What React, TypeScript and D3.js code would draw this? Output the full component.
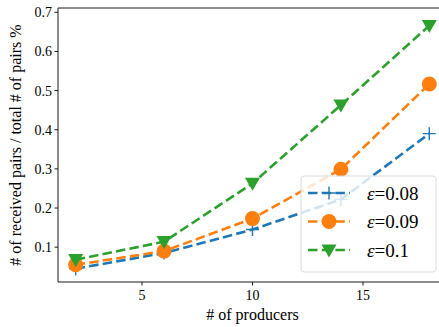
import React from 'react';
import * as d3 from 'd3';

// producers on the x axis
const producers = [2, 6, 10, 14, 18];
// received pair fraction per epsilon
const eps008 = [0.045, 0.085, 0.145, 0.222, 0.39];
const eps009 = [0.055, 0.09, 0.173, 0.299, 0.517];
const eps010 = [0.068, 0.114, 0.263, 0.463, 0.666];
const seriesLabels = ['0.08', '0.09', '0.1'];
const xTicks = [5, 10, 15];
const yTicks = [0.1, 0.2, 0.3, 0.4, 0.5, 0.6, 0.7];

const W = 439;
const H = 327;
const FONT = 'Liberation Serif';

const left = 58, top = 8, bottom = 282, right = 447;
const x = d3.scaleLinear().domain([1.2, 18.8]).range([left, right]);
const y = d3.scaleLinear().domain([0.011, 0.711]).range([bottom, top]);

const colors = ['#1f77b4', '#ff7f0e', '#2ca02c'];
const series = [eps008, eps009, eps010];
const markers = ['plus', 'circle', 'tri'];

const Marker = ({ kind, cx, cy, color }: { kind: string; cx: number; cy: number; color: string }) => {
  if (kind === 'plus') {
    return <path d={`M${cx - 6.5},${cy}H${cx + 6.5}M${cx},${cy - 6.5}V${cy + 6.5}`}
      stroke={color} strokeWidth={1.4} fill="none" />;
  }
  if (kind === 'circle') return <circle cx={cx} cy={cy} r={7.5} fill={color} />;
  const s = 7.5;
  return <path d={`M${cx - s},${cy - s * 0.75}L${cx + s},${cy - s * 0.75}L${cx},${cy + s}Z`} fill={color} />;
};

const line = d3.line<number>().x((_, i) => x(producers[i])).y(d => y(d));

const App = () => (
  <svg width={W} height={H} style={{ position: 'absolute', left: 0, top: 0, background: '#fff' }}>
    <defs>
      <clipPath id="plotclip">
        <rect x={left} y={top} width={right - left} height={bottom - top} />
      </clipPath>
    </defs>
    <g clipPath="url(#plotclip)">
      {series.map((vals, si) => (
        <g key={si}>
          <path d={line(vals) as string} fill="none" stroke={colors[si]}
            strokeWidth={2.6} strokeDasharray="9.5,4.2" />
          {vals.map((v, i) => (
            <Marker key={i} kind={markers[si]} cx={x(producers[i])} cy={y(v)} color={colors[si]} />
          ))}
        </g>
      ))}
    </g>

    {/* spines */}
    <path d={`M${left},${top}H${right}M${left},${top}V${bottom}H${right}`}
      stroke="#000" strokeWidth={0.9} fill="none" />

    {xTicks.map(t => (
      <g key={t}>
        <line x1={x(t)} x2={x(t)} y1={bottom} y2={bottom + 3.5} stroke="#000" strokeWidth={0.9} />
        <text x={x(t)} y={bottom + 18} textAnchor="middle" fontFamily={FONT} fontSize={14}>{t}</text>
      </g>
    ))}
    {yTicks.map(t => (
      <g key={t}>
        <line x1={left - 3.5} x2={left} y1={y(t)} y2={y(t)} stroke="#000" strokeWidth={0.9} />
        <text x={left - 6} y={y(t) + 5} textAnchor="end" fontFamily={FONT} fontSize={14}>{t.toFixed(1)}</text>
      </g>
    ))}

    <text x={(left + right) / 2} y={320} textAnchor="middle" fontFamily={FONT} fontSize={16}>
      # of producers
    </text>
    <text transform={`translate(21,${(top + bottom) / 2}) rotate(-90)`} textAnchor="middle"
      fontFamily={FONT} fontSize={16}>
      # of received pairs / total # of pairs %
    </text>

    {/* legend */}
    <g>
      <rect x={301} y={176} width={135} height={96} rx={3} fill="rgba(255,255,255,0.8)"
        stroke="#d6d6d6" strokeWidth={0.9} />
      {seriesLabels.map((lab, i) => {
        const ly = 193 + i * 28.5;
        return (
          <g key={lab}>
            <line x1={308} x2={350} y1={ly} y2={ly} stroke={colors[i]} strokeWidth={2.6}
              strokeDasharray="9.5,4.2" />
            <Marker kind={markers[i]} cx={329} cy={ly} color={colors[i]} />
            <text x={367} y={ly + 6.5} fontFamily={FONT} fontSize={19}>
              <tspan fontStyle="italic">ε</tspan>
              <tspan>={lab}</tspan>
            </text>
          </g>
        );
      })}
    </g>
  </svg>
);

export default App;
